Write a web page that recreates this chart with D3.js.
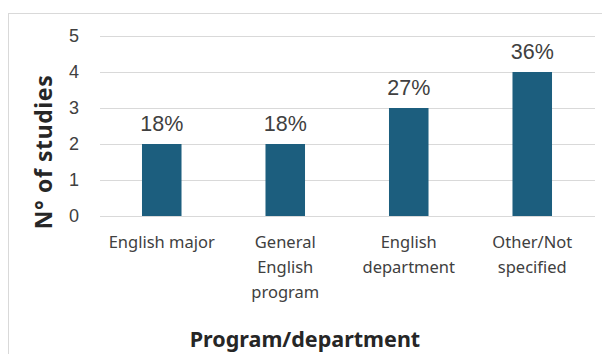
<!DOCTYPE html>
<html>
<head>
<meta charset="utf-8">
<script src="https://cdn.jsdelivr.net/npm/d3@7"></script>
<style>
  html, body { margin: 0; padding: 0; background: #fff; }
  svg { display: block; }
</style>
</head>
<body>
<svg id="chart" width="602" height="354"></svg>
<script>
// Studies by program/department
const categories = [
  ["English major"],
  ["General", "English", "program"],
  ["English", "department"],
  ["Other/Not", "specified"]
];
const studies = [2, 2, 3, 4];
const shares = ["18%", "18%", "27%", "36%"];
const yTicks = [0, 1, 2, 3, 4, 5];

const svg = d3.select("#chart");
const W = 602, H = 354;

// chart area frame
svg.append("rect")
  .attr("x", 8.5).attr("y", 13.5)
  .attr("width", W).attr("height", H)
  .attr("fill", "#fff").attr("stroke", "#d9d9d9").attr("stroke-width", 1);

const x = d3.scaleBand()
  .domain(d3.range(categories.length))
  .range([100, 594])
  .paddingInner(0.68)
  .paddingOuter(0.34);

const y = d3.scaleLinear().domain([0, 5]).range([216, 36]);

// gridlines
svg.append("g")
  .selectAll("line")
  .data(yTicks)
  .join("line")
  .attr("x1", 100).attr("x2", 595)
  .attr("y1", d => y(d) + 0.5).attr("y2", d => y(d) + 0.5)
  .attr("stroke", "#d9d9d9").attr("stroke-width", 1);

// y axis labels
const yAxis = d3.axisLeft(y).tickValues(yTicks).tickFormat(d3.format("d")).tickSize(0).tickPadding(0);
const yg = svg.append("g").attr("transform", "translate(79,0)").call(yAxis);
yg.select(".domain").remove();
yg.selectAll("text")
  .attr("font-family", "Liberation Sans, Arial, sans-serif")
  .attr("font-size", 18)
  .attr("fill", "#404040");

// bars
svg.append("g")
  .selectAll("rect")
  .data(studies)
  .join("rect")
  .attr("x", (d, i) => x(i))
  .attr("y", d => y(d))
  .attr("width", x.bandwidth())
  .attr("height", d => y(0) - y(d))
  .attr("fill", "#1c5e7e");

// value labels
svg.append("g")
  .selectAll("text")
  .data(studies)
  .join("text")
  .attr("x", (d, i) => x(i) + x.bandwidth() / 2)
  .attr("y", d => y(d) - 13)
  .attr("text-anchor", "middle")
  .attr("font-family", "Liberation Sans, Arial, sans-serif")
  .attr("font-size", 21.5)
  .attr("fill", "#404040")
  .text((d, i) => shares[i]);

// category labels
const cat = svg.append("g")
  .selectAll("text")
  .data(categories)
  .join("text")
  .attr("x", (d, i) => x(i) + x.bandwidth() / 2)
  .attr("y", 248)
  .attr("text-anchor", "middle")
  .attr("font-family", "Noto Sans, Open Sans, sans-serif")
  .attr("font-size", 16.5)
  .attr("fill", "#404040");
cat.selectAll("tspan")
  .data(d => d)
  .join("tspan")
  .attr("x", function () { return d3.select(this.parentNode).attr("x"); })
  .attr("dy", (d, i) => i === 0 ? 0 : 25)
  .text(d => d);

// axis titles
svg.append("text")
  .attr("transform", "translate(52,152) rotate(-90)")
  .attr("text-anchor", "middle")
  .attr("font-family", "Noto Sans, Open Sans, sans-serif")
  .attr("font-weight", "bold")
  .attr("font-size", 23)
  .attr("letter-spacing", 0.6)
  .attr("fill", "#262626")
  .text("N° of studies");

svg.append("text")
  .attr("x", 305).attr("y", 347)
  .attr("text-anchor", "middle")
  .attr("font-family", "Noto Sans, Open Sans, sans-serif")
  .attr("font-weight", "bold")
  .attr("font-size", 21.5)
  .attr("fill", "#262626")
  .text("Program/department");
</script>
</body>
</html>
